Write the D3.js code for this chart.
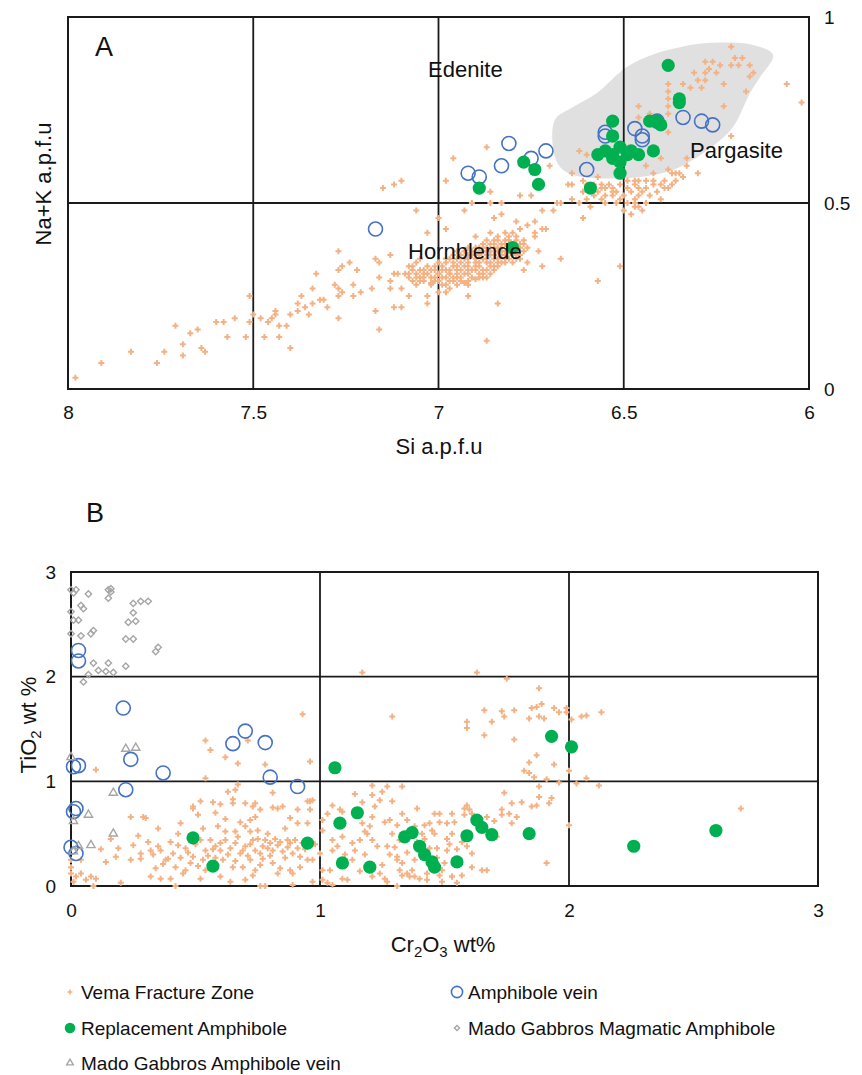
<!DOCTYPE html>
<html>
<head>
<meta charset="utf-8">
<script src="https://cdn.jsdelivr.net/npm/d3@7"></script>
<style>
  body { margin: 0; background: #fff; }
  svg { display: block; }
</style>
</head>
<body>
<script>
// ---- Panel A: Si vs Na+K (a.p.f.u) ----
const xTicksA = [8, 7.5, 7, 6.5, 6];
const yTicksA = [0, 0.5, 1];
const xGridA = [7.5, 7, 6.5];
const yGridA = [0.5];

// outline of the shaded pargasite field
const pargasiteField = [
  [6.275, 0.93], [6.151, 0.925], [6.097, 0.898], [6.132, 0.839], [6.159, 0.796],
  [6.205, 0.704], [6.24, 0.669], [6.313, 0.616], [6.367, 0.589], [6.456, 0.57],
  [6.61, 0.57], [6.664, 0.589], [6.686, 0.624], [6.686, 0.723], [6.637, 0.758],
  [6.572, 0.796], [6.491, 0.866], [6.41, 0.903], [6.348, 0.919]
];

const vemaA = [
  [7.98,0.03],[7.91,0.07],[7.83,0.10],[7.76,0.07],[7.74,0.10],[7.71,0.17],[7.69,0.12],[7.69,0.09],
  [7.67,0.15],[7.65,0.16],[7.64,0.11],[7.63,0.10],[7.60,0.18],[7.58,0.18],[7.57,0.14],[7.55,0.19],
  [7.52,0.14],[7.51,0.18],[7.51,0.25],[7.50,0.20],[7.48,0.19],[7.47,0.14],[7.46,0.18],[7.45,0.19],
  [7.44,0.21],[7.44,0.20],[7.43,0.17],[7.43,0.14],[7.41,0.17],[7.40,0.11],[7.40,0.20],[7.38,0.21],
  [7.38,0.23],[7.37,0.25],[7.36,0.22],[7.35,0.20],[7.34,0.27],[7.34,0.23],[7.33,0.31],[7.32,0.24],
  [7.31,0.24],[7.30,0.22],[7.28,0.28],[7.27,0.37],[7.27,0.32],[7.27,0.27],[7.27,0.25],[7.27,0.19],
  [7.26,0.33],[7.26,0.26],[7.24,0.34],[7.23,0.28],[7.23,0.25],[7.22,0.32],[7.21,0.26],[7.18,0.27],
  [7.17,0.35],[7.17,0.21],[7.16,0.34],[7.16,0.16],[7.16,0.30],[7.13,0.36],[7.13,0.29],[7.13,0.27],
  [7.12,0.31],[7.12,0.22],[7.11,0.31],[7.10,0.27],[7.10,0.22],[7.08,0.25],[7.08,0.31],[7.07,0.33],
  [7.06,0.48],[7.06,0.28],[7.05,0.35],[7.04,0.31],[7.03,0.42],[7.03,0.25],[7.03,0.23],[7.00,0.46],
  [7.00,0.26],[6.98,0.43],[6.98,0.26],[6.93,0.48],[6.92,0.25],[6.91,0.50],[6.87,0.13],[6.86,0.53],
  [6.86,0.50],[6.85,0.46],[6.84,0.23],[6.83,0.50],[6.83,0.47],[6.79,0.45],[6.78,0.52],[6.76,0.34],
  [6.75,0.52],[6.74,0.45],[6.74,0.42],[6.73,0.37],[6.72,0.48],[6.72,0.33],[6.71,0.43],[6.69,0.48],
  [7.15,0.54],[7.12,0.55],[7.10,0.56],[6.98,0.56],[6.96,0.62],
  [6.87,0.65],[6.70,0.60],[6.64,0.55],[6.62,0.64],[6.61,0.53],[6.60,0.55],[6.56,0.55],[6.55,0.54],
  [6.53,0.52],[6.53,0.54],[6.49,0.56],[6.47,0.55],[6.46,0.54],[6.45,0.53],[6.44,0.56],[6.42,0.55],
  [6.40,0.55],[6.38,0.54],[6.37,0.58],[6.35,0.58],[6.30,0.58],[6.33,0.62],[6.47,0.49],[6.47,0.51],
  [6.51,0.51],[6.56,0.51],[6.58,0.52],[6.64,0.51],[6.61,0.46],[6.57,0.29],[6.51,0.33],[6.67,0.35],
  [6.72,0.43],[6.67,0.50],[6.74,0.41],[6.78,0.43],[6.76,0.44],[6.77,0.32],
  [6.21,0.92],[6.20,0.89],[6.18,0.89],[6.16,0.87],[6.15,0.85],[6.16,0.84],[6.19,0.87],[6.21,0.87],
  [6.24,0.87],[6.26,0.88],[6.28,0.88],[6.25,0.85],[6.27,0.86],[6.28,0.85],[6.31,0.85],[6.28,0.83],
  [6.29,0.81],[6.32,0.81],[6.34,0.82],[6.38,0.82],[6.38,0.80],[6.38,0.78],[6.17,0.80],[6.06,0.82],
  [6.02,0.77],[6.23,0.76],[6.46,0.76],[6.38,0.76],[6.38,0.74],[6.38,0.69],[6.21,0.68],[6.33,0.60],
  [6.36,0.58],[6.43,0.74],[6.60,0.63],[6.68,0.50],[6.65,0.55],[6.64,0.58],[6.56,0.54],[6.53,0.53],
  [6.49,0.54],[6.46,0.56],[6.39,0.54],[6.47,0.50],[6.45,0.48],[6.50,0.48],[6.46,0.49],
  [6.30,0.83],[6.23,0.82],[6.40,0.62],[6.44,0.60],[6.38,0.59],[6.46,0.73],
  // group just below the pargasite field
  [6.58,0.55],[6.57,0.53],[6.55,0.52],[6.54,0.55],[6.52,0.53],[6.51,0.55],[6.50,0.52],[6.49,0.50],
  [6.48,0.53],[6.47,0.56],[6.46,0.52],[6.44,0.54],[6.43,0.52],[6.42,0.56],[6.41,0.53],[6.40,0.51],
  [6.39,0.56],[6.37,0.55],[6.36,0.56],[6.34,0.57],[6.44,0.50],[6.52,0.50],[6.55,0.50],[6.60,0.51],
  [6.62,0.50],[6.59,0.49],[6.48,0.47],[6.42,0.58],[6.57,0.57],[6.61,0.56],
  // dense hornblende cluster
  [7.05,0.30],[7.05,0.32],[7.04,0.29],[7.03,0.31],[7.03,0.33],[7.02,0.28],[7.01,0.30],[7.01,0.32],
  [7.00,0.29],[7.00,0.31],[7.00,0.34],[6.99,0.30],[6.98,0.28],[6.98,0.32],[6.98,0.35],[6.97,0.31],
  [6.96,0.29],[6.96,0.33],[6.96,0.36],[6.95,0.30],[6.95,0.32],[6.94,0.34],[6.94,0.29],[6.93,0.31],
  [6.93,0.35],[6.93,0.37],[6.92,0.33],[6.91,0.30],[6.91,0.32],[6.91,0.36],[6.90,0.34],[6.90,0.38],
  [6.89,0.31],[6.89,0.33],[6.89,0.36],[6.88,0.35],[6.88,0.38],[6.87,0.32],[6.87,0.34],[6.87,0.37],
  [6.86,0.36],[6.86,0.39],[6.85,0.33],[6.85,0.35],[6.85,0.38],[6.84,0.34],[6.84,0.37],[6.84,0.40],
  [6.83,0.36],[6.83,0.38],[6.82,0.35],[6.82,0.39],[6.81,0.37],[6.81,0.40],[6.80,0.36],[6.80,0.38],
  [6.79,0.37],[6.79,0.39],[6.78,0.38],[6.77,0.39],[6.97,0.27],[6.92,0.28],[6.88,0.30],[7.06,0.34],
  [6.90,0.41],[6.86,0.42],[6.80,0.34],[6.78,0.35],
  [7.02,0.285],[6.99,0.28],[6.95,0.28],[6.93,0.285],[7.05,0.29],[7.01,0.29],[6.97,0.29],[6.92,0.29],
  [6.90,0.295],[7.04,0.30],[7.02,0.30],[6.98,0.30],[6.96,0.30],[6.94,0.30],[6.89,0.30],[6.87,0.30],
  [7.06,0.31],[7.00,0.31],[6.97,0.31],[6.95,0.31],[6.92,0.31],[6.88,0.31],[6.86,0.31],[7.04,0.32],
  [7.02,0.32],[6.99,0.32],[6.97,0.32],[6.94,0.32],[6.92,0.32],[6.90,0.32],[6.88,0.32],[6.85,0.32],
  [7.01,0.33],[6.99,0.33],[6.95,0.33],[6.93,0.33],[6.90,0.33],[6.86,0.33],[6.84,0.33],[6.98,0.34],
  [6.96,0.34],[6.92,0.34],[6.89,0.34],[6.86,0.34],[6.83,0.34],[6.82,0.34],[6.97,0.35],[6.95,0.35],
  [6.92,0.35],[6.90,0.35],[6.87,0.35],[6.84,0.35],[6.81,0.35],[6.79,0.35],[6.94,0.36],[6.92,0.36],
  [6.89,0.36],[6.87,0.36],[6.85,0.36],[6.82,0.36],[6.79,0.36],[6.78,0.36],[6.95,0.37],[6.91,0.37],
  [6.89,0.37],[6.86,0.37],[6.83,0.37],[6.82,0.37],[6.80,0.37],[6.77,0.37],[6.92,0.38],[6.89,0.38],
  [6.87,0.38],[6.84,0.38],[6.81,0.38],[6.79,0.38],[6.76,0.38],[6.88,0.39],[6.85,0.39],[6.83,0.39],
  [6.80,0.39],[6.78,0.39],[6.87,0.40],[6.85,0.40],[6.82,0.40],[6.79,0.40],[6.77,0.40],[6.84,0.41],
  [6.81,0.41],[6.79,0.41],[6.82,0.42],[6.80,0.42],
  [7.07,0.29],[7.08,0.30],[7.07,0.32],[7.09,0.31],[7.06,0.30],[7.08,0.33]
];

const veinA = [
  [6.92,0.58],[6.89,0.57],[6.83,0.60],[6.81,0.66],[6.71,0.64],[6.75,0.62],[6.60,0.59],[6.55,0.69],
  [6.55,0.68],[6.47,0.70],[6.45,0.68],[6.45,0.67],[6.41,0.72],[6.34,0.73],[6.29,0.72],[6.26,0.71],
  [7.17,0.43]
];

const replacementA = [
  [6.38,0.87],[6.35,0.78],[6.35,0.77],[6.53,0.72],[6.53,0.68],[6.43,0.72],[6.41,0.72],[6.40,0.71],
  [6.57,0.63],[6.55,0.64],[6.53,0.63],[6.51,0.65],[6.53,0.62],[6.51,0.61],[6.51,0.58],[6.49,0.63],
  [6.46,0.63],[6.42,0.64],[6.48,0.64],[6.59,0.54],[6.89,0.54],[6.73,0.55],[6.77,0.61],[6.74,0.59],
  [6.80,0.38]
];

// ---- Panel B: Cr2O3 vs TiO2 (wt%) ----
const xTicksB = [0, 1, 2, 3];
const yTicksB = [0, 1, 2, 3];
const xGridB = [1, 2];
const yGridB = [1, 2];

const vemaB = [
  [0.10,1.11],[0.67,1.17],[0.78,1.16],[0.96,1.19],[0.54,1.03],[0.67,0.97],[0.63,0.90],[0.65,0.83],
  [0.57,0.80],[0.52,0.81],[0.49,0.74],[0.60,0.78],[0.70,0.79],[0.73,0.76],[0.76,0.73],[0.81,0.75],
  [0.83,0.74],[0.81,0.89],[0.91,0.73],[0.96,0.81],[0.24,0.66],[0.30,0.65],[0.51,0.68],[0.72,0.63],
  [0.88,0.65],[0.43,0.50],[0.53,0.55],[0.66,0.52],[0.72,0.52],[0.78,0.44],[0.84,0.42],[0.88,0.41],
  [0.40,0.42],[0.31,0.42],[0.25,0.39],[0.19,0.36],[0.32,0.34],[0.46,0.36],[0.54,0.34],[0.60,0.34],
  [0.62,0.44],[0.70,0.38],[0.76,0.31],[0.81,0.34],[0.89,0.31],[0.14,0.23],[0.18,0.28],[0.24,0.25],
  [0.28,0.26],[0.34,0.17],[0.39,0.26],[0.42,0.18],[0.49,0.28],[0.53,0.25],[0.61,0.25],[0.65,0.18],
  [0.72,0.25],[0.74,0.15],[0.81,0.22],[0.88,0.15],[0.95,0.25],[0.04,0.12],[0.08,0.09],[0.10,0.07],
  [0.02,0.09],[0.01,0.04],[0.32,0.09],[0.36,0.07],[0.40,0.07],[0.42,0.00],[0.45,0.12],[0.52,0.07],
  [0.60,0.09],[0.64,0.04],[0.70,0.06],[0.76,0.00],[0.78,0.00],[0.89,0.01],[0.97,0.04],[0.20,0.03],
  [0.09,0.00],[0.00,0.18],[0.00,0.25],
  [0.56,0.44],[0.58,0.38],[0.66,0.41],[0.68,0.31],[0.73,0.44],[0.77,0.38],[0.80,0.41],[0.83,0.39],
  [0.87,0.44],[0.91,0.36],[0.93,0.41],[0.70,0.57],[0.75,0.53],[0.79,0.50],[0.62,0.52],[0.59,0.57],
  [0.52,0.44],[0.48,0.47],[0.36,0.34],[0.28,0.31],[0.38,0.25],[0.57,0.22],[0.69,0.18],[0.76,0.20],
  [0.84,0.17],[0.92,0.18],[0.73,0.10],[0.83,0.12],[0.89,0.12],[0.54,0.15],[0.46,0.15],[0.48,0.22],
  [0.04,0.25],[0.00,0.12],[0.06,0.06],
  [0.29,0.66],[0.49,0.76],[0.65,0.79],[0.66,0.92],[0.74,0.79],[0.85,0.76],[0.97,0.82],
  [0.54,1.39],[0.56,1.30],[0.71,1.39],[0.62,1.23],[0.93,1.64],
  [0.33,0.30],[0.35,0.38],[0.37,0.21],[0.41,0.31],[0.43,0.39],[0.44,0.27],[0.47,0.32],[0.50,0.40],
  [0.51,0.19],[0.55,0.29],[0.57,0.35],[0.58,0.27],[0.60,0.41],[0.63,0.30],[0.64,0.36],[0.66,0.24],
  [0.67,0.47],[0.69,0.34],[0.71,0.29],[0.72,0.40],[0.74,0.34],[0.75,0.45],[0.77,0.26],[0.79,0.36],
  [0.80,0.29],[0.82,0.45],[0.85,0.33],[0.86,0.27],[0.87,0.37],[0.90,0.44],[0.92,0.28],[0.94,0.35],
  [0.98,0.40],[0.68,0.61],[0.74,0.66],[0.62,0.64],[0.58,0.70],[0.86,0.55],[0.91,0.60],[0.44,0.60],
  [0.35,0.55],[0.27,0.48],[0.16,0.45],[0.12,0.35],
  [1.17,2.04],[1.63,2.04],[1.75,1.98],[1.29,1.62],[1.88,1.89],[1.85,1.70],[1.87,1.71],[1.89,1.74],
  [1.84,1.60],[1.88,1.62],[1.90,1.60],[1.94,1.70],[1.96,1.66],[1.99,1.70],[1.99,1.66],[2.01,1.59],
  [2.05,1.62],[2.07,1.63],[2.13,1.66],[1.66,1.68],[1.73,1.67],[1.74,1.62],[1.78,1.68],[1.69,1.57],
  [1.59,1.57],[1.59,1.51],[1.66,1.44],[1.78,1.40],[1.87,1.25],[1.84,1.18],[1.94,1.16],[1.82,1.10],
  [1.84,1.08],[1.86,1.04],[1.91,1.02],[2.00,1.10],[1.96,0.99],[2.03,0.98],[2.07,1.03],[2.12,0.96],
  [1.88,0.95],[1.74,0.89],[1.81,0.80],[1.88,0.85],[1.93,0.84],[1.87,0.77],[1.85,0.76],[1.92,0.79],
  [2.00,0.58],[1.91,0.22],[1.77,0.79],[1.73,0.73],[1.73,0.68],[1.76,0.69],[1.79,0.66],[1.77,0.60],
  [1.70,0.62],[1.67,0.66],[1.71,0.47],[1.59,0.77],[1.58,0.74],[1.60,0.73],[1.58,0.68],[1.61,0.69],
  [1.53,0.69],[1.54,0.61],[1.51,0.60],[1.48,0.61],[1.46,0.69],[1.48,0.69],[1.44,0.60],[1.42,0.58],
  [1.45,0.53],[1.46,0.50],[1.51,0.45],[1.53,0.50],[1.57,0.42],[1.59,0.38],[1.61,0.31],[1.65,0.15],
  [1.67,0.15],[1.61,0.18],[1.57,0.10],[1.53,0.09],[1.49,0.15],[1.41,0.50],[1.38,0.57],[1.33,0.69],
  [1.35,0.63],[1.39,0.74],[1.31,0.58],[1.28,0.63],[1.26,0.61],[1.24,0.82],[1.29,0.81],[1.27,0.95],
  [1.21,0.96],[1.14,0.88],[1.17,0.80],[1.22,0.76],[1.21,0.66],[1.20,0.57],[1.17,0.60],[1.18,0.52],
  [1.19,0.50],[1.21,0.44],[1.16,0.44],[1.13,0.41],[1.14,0.34],[1.09,0.47],[1.05,0.44],[1.07,0.38],
  [1.05,0.34],[1.03,0.69],[1.05,0.77],[1.08,0.73],[1.09,0.71],[1.01,0.63],[1.01,0.53],[1.00,0.31],
  [0.97,0.25],[1.01,0.15],[1.01,0.06],[1.03,0.03],[1.05,0.01],[1.04,0.15],[1.09,0.07],[1.11,0.06],
  [1.16,0.14],[1.21,0.09],[1.24,0.12],[1.26,0.07],[1.27,0.04],[1.31,0.00],[1.31,0.25],[1.31,0.28],
  [1.32,0.15],[1.33,0.10],[1.35,0.12],[1.36,0.09],[1.37,0.15],[1.38,0.09],[1.40,0.07],[1.43,0.12],
  [1.43,0.06],[1.48,0.10],[1.49,0.04],[1.53,0.09],[1.55,0.03],[1.23,0.38],[1.27,0.38],[1.32,0.44],
  [1.29,0.50],[1.21,0.87],[1.33,0.95],[1.51,0.34],[1.47,0.36],[1.25,0.90],[0.95,0.81],[0.96,0.73],
  [0.95,0.60],[2.69,0.74],
  [1.25,0.20],[1.28,0.30],[1.30,0.37],[1.33,0.22],[1.35,0.32],[1.38,0.25],[1.39,0.42],[1.42,0.45],
  [1.44,0.36],[1.47,0.27],[1.50,0.22],[1.52,0.40],[1.55,0.35],[1.18,0.30],[1.13,0.25],[1.10,0.30]
];

const veinB = [
  [0.03,2.25],[0.03,2.15],[0.21,1.70],[0.01,1.14],[0.03,1.15],[0.24,1.21],[0.22,0.92],[0.37,1.08],
  [0.65,1.36],[0.70,1.48],[0.78,1.37],[0.80,1.04],[0.91,0.95],[0.01,0.71],[0.02,0.74],[0.00,0.37],
  [0.02,0.31]
];

const replacementB = [
  [0.49,0.46],[0.57,0.19],[0.95,0.41],[1.06,1.13],[1.93,1.43],[2.01,1.33],[1.15,0.70],[1.08,0.60],
  [1.09,0.22],[1.20,0.18],[1.34,0.47],[1.37,0.51],[1.40,0.38],[1.42,0.30],[1.45,0.23],[1.46,0.18],
  [1.55,0.23],[1.59,0.48],[1.63,0.63],[1.65,0.56],[1.69,0.49],[1.84,0.50],[2.26,0.38],[2.59,0.53]
];

const madoMagmaticB = [
  [0.00,2.83],[0.01,2.80],[0.02,2.83],[0.00,2.62],[0.01,2.54],[0.04,2.68],[0.05,2.65],[0.07,2.79],
  [0.03,2.54],[0.00,2.41],[0.04,2.39],[0.08,2.41],[0.09,2.44],[0.15,2.83],[0.16,2.84],[0.16,2.81],
  [0.15,2.75],[0.25,2.70],[0.28,2.72],[0.31,2.72],[0.25,2.61],[0.23,2.52],[0.26,2.53],[0.22,2.36],
  [0.25,2.36],[0.34,2.24],[0.35,2.28],[0.09,2.13],[0.11,2.06],[0.07,2.02],[0.05,1.95],[0.15,2.13],
  [0.14,2.05],[0.17,2.04],[0.22,2.10]
];

const madoVeinB = [
  [0.00,1.23],[0.22,1.31],[0.26,1.32],[0.17,0.89],[0.07,0.68],[0.01,0.62],[0.17,0.50],[0.08,0.39],
  [0.03,0.38],[0.01,0.33]
];

const legendItems = [
  { label: "Vema Fracture Zone", kind: "vema" },
  { label: "Amphibole vein", kind: "vein" },
  { label: "Replacement Amphibole", kind: "repl" },
  { label: "Mado Gabbros Magmatic Amphibole", kind: "mag" },
  { label: "Mado Gabbros Amphibole vein", kind: "mvein" }
];

const W = 862, H = 1075;
const FONT = "'Liberation Sans', Arial, Helvetica, sans-serif";
const INK = "#1a1a1a";

const svg = d3.select("body").append("svg")
  .attr("width", W).attr("height", H)
  .style("font-family", FONT);

svg.append("rect").attr("width", W).attr("height", H).attr("fill", "#fff");

// Marker styles per series.
const styles = {
  vema:  { shape: "cross",    size: 20, fill: "#f4b183", stroke: "none" },
  vein:  { shape: "circle",   r: 7,     fill: "none", stroke: "#4472c4", sw: 1.6 },
  repl:  { shape: "circle",   r: 6.6,   fill: "#00b050", stroke: "none" },
  mag:   { shape: "diamond",  size: 20, fill: "none", stroke: "#a6a6a6", sw: 1.4 },
  mvein: { shape: "triangle", size: 30, fill: "none", stroke: "#a6a6a6", sw: 1.4 }
};

function drawMarker(sel, kind, scale = 1) {
  const s = styles[kind];
  let m;
  if (s.shape === "circle") {
    m = sel.append("circle").attr("r", s.r * scale);
  } else {
    const type = s.shape === "cross" ? d3.symbolCross
      : s.shape === "diamond" ? d3.symbolSquare : d3.symbolTriangle;
    m = sel.append("path").attr("d", d3.symbol(type, s.size * scale * scale)());
    if (s.shape === "diamond") m.attr("transform", "rotate(45)");
  }
  m.attr("fill", s.fill).attr("stroke", s.stroke).attr("stroke-width", s.sw || 0);
}

function drawSeries(g, data, x, y, kind) {
  g.append("g").selectAll("g")
    .data(data)
    .join("g")
    .attr("transform", (d) => `translate(${x(d[0])},${y(d[1])})`)
    .each(function () { drawMarker(d3.select(this), kind); });
}

function drawFrame(g, x, y, xGrid, yGrid) {
  const [x0, x1] = x.range();
  const [y0, y1] = y.range();
  g.append("g").selectAll("line").data(xGrid).join("line")
    .attr("x1", (d) => x(d)).attr("x2", (d) => x(d))
    .attr("y1", y0).attr("y2", y1)
    .attr("stroke", INK).attr("stroke-width", 1.8);
  g.append("g").selectAll("line").data(yGrid).join("line")
    .attr("x1", x0).attr("x2", x1)
    .attr("y1", (d) => y(d)).attr("y2", (d) => y(d))
    .attr("stroke", INK).attr("stroke-width", 1.8);
  g.append("rect")
    .attr("x", Math.min(x0, x1)).attr("y", Math.min(y0, y1))
    .attr("width", Math.abs(x1 - x0)).attr("height", Math.abs(y1 - y0))
    .attr("fill", "none").attr("stroke", INK).attr("stroke-width", 2);
}

function styleAxis(g) {
  g.select(".domain").remove();
  g.attr("font-size", 19).attr("font-family", FONT);
  g.selectAll("text").attr("fill", "#111");
}

// Writes text with subscript parts: parts = [[str, isSub], ...]
function subText(text, parts) {
  let shifted = false;
  parts.forEach(([str, sub]) => {
    const t = text.append("tspan").text(str);
    if (sub && !shifted) { t.attr("dy", 5).attr("font-size", "0.68em"); shifted = true; }
    else if (!sub && shifted) { t.attr("dy", -5); shifted = false; }
    else if (sub) t.attr("font-size", "0.68em");
  });
}

// ===== Panel A =====
const xA = d3.scaleLinear().domain([8, 6]).range([68, 809]);
const yA = d3.scaleLinear().domain([0, 1]).range([389, 17]);
const gA = svg.append("g");

gA.append("path")
  .datum(pargasiteField)
  .attr("d", d3.line().x((d) => xA(d[0])).y((d) => yA(d[1])).curve(d3.curveCatmullRomClosed))
  .attr("fill", "#e0e0e0");

drawFrame(gA, xA, yA, xGridA, yGridA);

gA.append("g")
  .attr("transform", `translate(0,${yA(0)})`)
  .call(d3.axisBottom(xA).tickValues(xTicksA).tickSize(0).tickPadding(17).tickFormat((d) => d))
  .call(styleAxis);

gA.append("g")
  .attr("transform", `translate(${xA(6)},0)`)
  .call(d3.axisRight(yA).tickValues(yTicksA).tickSize(0).tickPadding(15).tickFormat((d) => d))
  .call(styleAxis);

drawSeries(gA, vemaA, xA, yA, "vema");
drawSeries(gA, veinA, xA, yA, "vein");
drawSeries(gA, replacementA, xA, yA, "repl");

const fieldLabels = [
  { text: "Edenite", x: 428, y: 77 },
  { text: "Pargasite", x: 690, y: 158 },
  { text: "Hornblende", x: 408, y: 259 }
];
gA.append("g").selectAll("text").data(fieldLabels).join("text")
  .attr("x", (d) => d.x).attr("y", (d) => d.y)
  .attr("font-size", 22).attr("fill", "#111")
  .text((d) => d.text);

gA.append("text").attr("x", 95).attr("y", 56).attr("font-size", 27).attr("fill", "#111").text("A");

gA.append("text")
  .attr("x", 439).attr("y", 454).attr("text-anchor", "middle")
  .attr("font-size", 22).attr("fill", "#111")
  .text("Si a.p.f.u");

gA.append("text")
  .attr("transform", "translate(51,184) rotate(-90)")
  .attr("text-anchor", "middle")
  .attr("font-size", 22).attr("fill", "#111")
  .text("Na+K a.p.f.u");

// ===== Panel B =====
const xB = d3.scaleLinear().domain([0, 3]).range([71, 818]);
const yB = d3.scaleLinear().domain([0, 3]).range([886, 572]);
const gB = svg.append("g");

drawFrame(gB, xB, yB, xGridB, yGridB);

gB.append("g")
  .attr("transform", `translate(0,${yB(0)})`)
  .call(d3.axisBottom(xB).tickValues(xTicksB).tickSize(0).tickPadding(18).tickFormat((d) => d))
  .call(styleAxis);

gB.append("g")
  .attr("transform", `translate(${xB(0)},0)`)
  .call(d3.axisLeft(yB).tickValues(yTicksB).tickSize(0).tickPadding(15).tickFormat((d) => d))
  .call(styleAxis);

drawSeries(gB, vemaB, xB, yB, "vema");
drawSeries(gB, veinB, xB, yB, "vein");
drawSeries(gB, replacementB, xB, yB, "repl");
drawSeries(gB, madoMagmaticB, xB, yB, "mag");
drawSeries(gB, madoVeinB, xB, yB, "mvein");

gB.append("text").attr("x", 86).attr("y", 522).attr("font-size", 27).attr("fill", "#111").text("B");

const xTitleB = gB.append("text")
  .attr("x", 443).attr("y", 952).attr("text-anchor", "middle")
  .attr("font-size", 22).attr("fill", "#111");
subText(xTitleB, [["Cr"], ["2", true], ["O"], ["3", true], [" wt%"]]);

const yTitleB = gB.append("text")
  .attr("transform", "translate(36,725) rotate(-90)")
  .attr("text-anchor", "middle")
  .attr("font-size", 22).attr("fill", "#111");
subText(yTitleB, [["TiO"], ["2", true], [" wt %"]]);

// ===== Legend =====
const legendCols = [70, 457];
const legendRows = [992, 1028, 1063];
const legend = svg.append("g")
  .selectAll("g")
  .data(legendItems)
  .join("g")
  .attr("transform", (d, i) => `translate(${legendCols[i % 2]},${legendRows[Math.floor(i / 2)]})`);

legend.each(function (d) { drawMarker(d3.select(this), d.kind, 0.8); });
legend.append("text")
  .attr("x", 11).attr("dy", "0.35em")
  .attr("font-size", 19).attr("fill", "#111")
  .text((d) => d.label);
</script>
</body>
</html>
